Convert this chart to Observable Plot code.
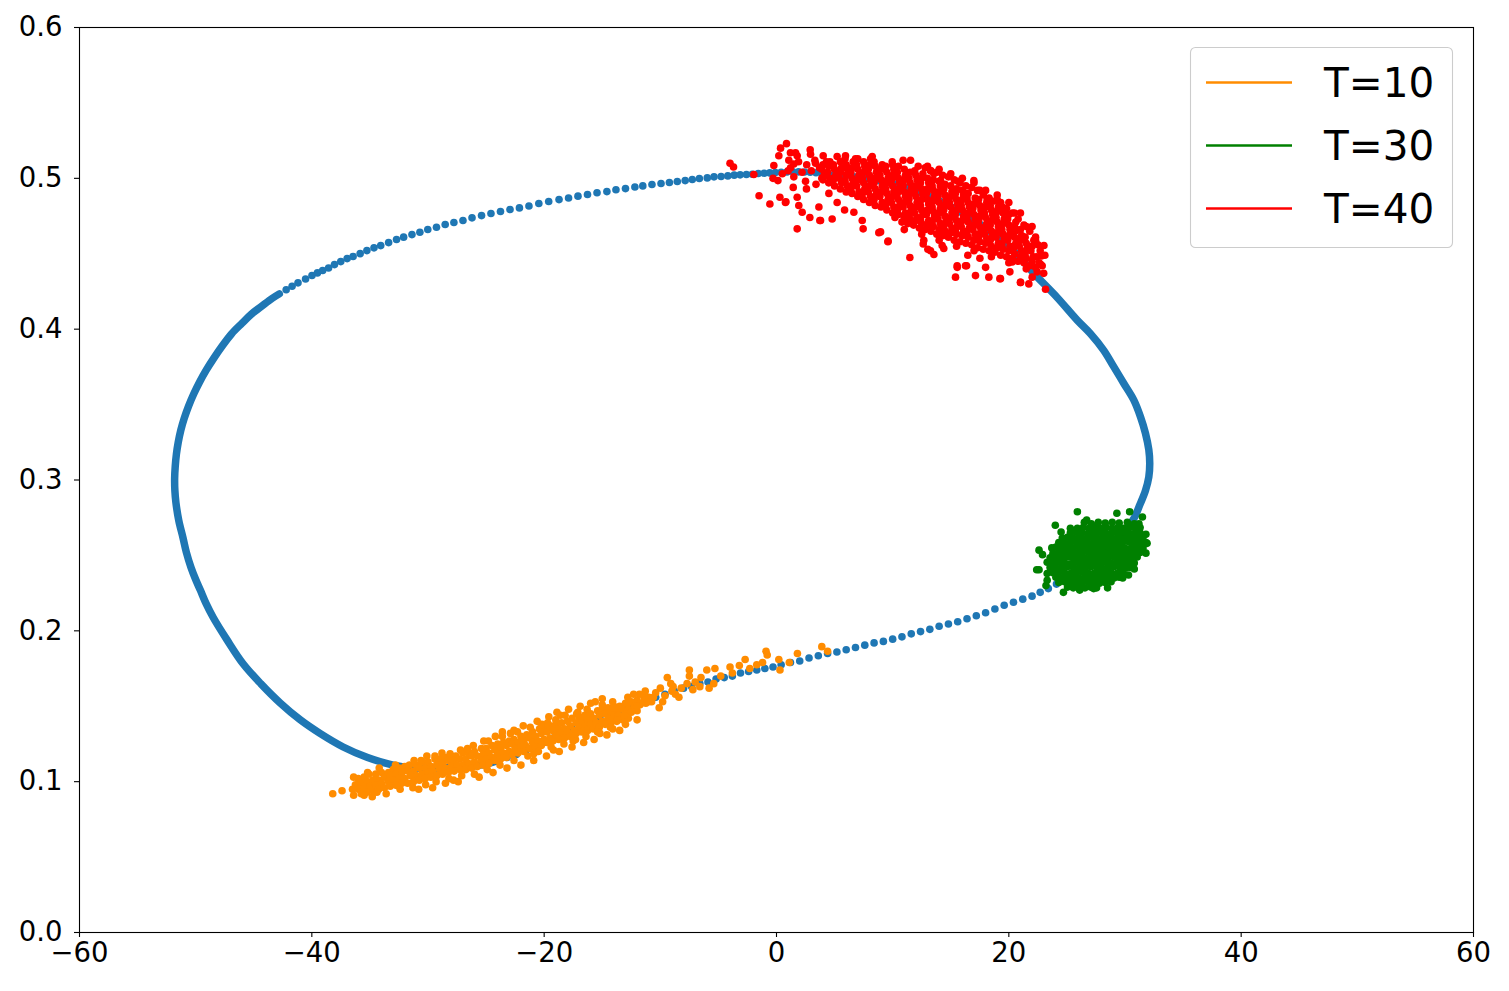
<!DOCTYPE html>
<html><head><meta charset="utf-8">
<script src="https://cdn.jsdelivr.net/npm/d3@7"></script>
<script src="https://cdn.jsdelivr.net/npm/@observablehq/plot@0.6"></script>
<style>body{margin:0;background:#fff;} #chart{width:1509px;height:991px;}</style>
</head><body><div id="chart"></div>
<script>
const xTicks = [-60,-40,-20,0,20,40,60];
const yTicks = [0,0.1,0.2,0.3,0.4,0.5,0.6];
const seriesLabels = ["T=10","T=30","T=40"];
const seriesColors = ["#ff8c00","#008000","#ff0000"];
const loopColor = "#1f77b4";

// dense (slow) parts of the limit cycle, where the dots merge into a band
const loopBandLeft = [[-42.8,.4234],[-43.4,.4205],[-44.35,.415],[-45.2,.410],[-46.0,.404],[-46.9,.397],[-47.7,.389],[-48.42,.381],[-49.08,.373],[-49.66,.365],[-50.17,.357],[-50.61,.349],[-50.98,.341],[-51.28,.333],[-51.5,.325],[-51.66,.317],[-51.76,.309],[-51.81,.301],[-51.79,.293],[-51.7,.285],[-51.45,.273],[-51.1,.262],[-50.8,.252],[-50.4,.242],[-50.0,.234],[-49.6,.227],[-49.1,.218],[-48.5,.209],[-47.3,.194],[-45.9,.178],[-44.4,.165],[-42.7,.152],[-41.0,.141],[-39.3,.132],[-37.3,.123],[-35.2,.116],[-33.0,.111],[-31.0,.109],[-29.0,.109],[-27.0,.110],[-25.5,.111],[-24.0,.114]];
const loopBandRight = [[25.3,.236],[26,.240],[27,.245],[28,.251],[29,.258],[30,.266],[30.8,.275],[31.3,.284],[31.76,.293],[32.05,.302],[32.13,.311],[32.05,.320],[31.76,.331],[31.33,.342],[30.76,.353],[29.9,.364],[29.04,.375],[28.17,.386],[27.03,.397],[25.88,.406],[24.16,.421],[22.15,.437],[21.0,.447],[20.0,.455],[18,.467],[16,.477],[14,.485],[12,.492],[10,.4965],[8,.4995],[6.5,.501]];
// separate dots of the fast parts of the cycle
const loopDots = [[-42.21,.4261],[-41.70,.4285],[-41.19,.4307],[-40.54,.4333],[-39.99,.4356],[-39.52,.4373],[-39.07,.4389],[-38.56,.4406],[-38.05,.4428],[-37.51,.4448],[-36.96,.4468],[-36.45,.4482],[-35.84,.4501],[-35.26,.4521],[-34.65,.4539],[-34.07,.4554],[-33.39,.4574],[-32.71,.4594],[-32.10,.4610],[-31.38,.4627],[-30.70,.4643],[-30.02,.4661],[-29.27,.4676],[-28.52,.4694],[-27.77,.4707],[-26.99,.4720],[-26.21,.4738],[-25.39,.4753],[-24.58,.4767],[-23.76,.4780],[-22.94,.4793],[-22.13,.4804],[-21.31,.4817],[-20.46,.4833],[-19.61,.4846],[-18.72,.4859],[-17.90,.4870],[-17.09,.4882],[-16.27,.4893],[-15.45,.4904],[-14.60,.4912],[-13.82,.4924],[-13.00,.4932],[-12.19,.4943],[-11.51,.4950],[-10.72,.4959],[-9.94,.4966],[-9.22,.4972],[-8.54,.4979],[-7.86,.4985],[-7.25,.4992],[-6.64,.4999],[-5.96,.5003],[-5.38,.5010],[-4.77,.5012],[-4.19,.5016],[-3.64,.5021],[-3.13,.5023],[-2.59,.5025],[-2.08,.5027],[-1.57,.5032],[-1.06,.5034],[-0.58,.5036],[-0.10,.5038],[0.4,.504],[0.9,.5042],[1.4,.5043],[1.9,.5043],[2.4,.5042],[2.9,.504],[3.4,.5037],[3.9,.5033],[4.4,.5029],[4.9,.5024],[5.4,.5019],[5.9,.5013],
[-23.2,.116],[-22.4,.118],[-21.6,.120],[-20.8,.123],[-20.0,.126],[-19.2,.129],[-18.4,.132],[-17.6,.135],[-16.8,.138],[-16.0,.140],[-15.2,.143],[-14.4,.145],[-13.6,.147],[-12.8,.150],[-12.0,.152],[-11.2,.154],[-10.4,.156],[-9.6,.158],[-8.8,.160],[-8.0,.162],[-7.3,.163],[-6.6,.165],[-5.9,.166],[-5.2,.168],[-4.5,.169],[-3.8,.170],[-3.1,.172],[-2.4,.173],[-1.7,.174],[-1.0,.175],[-0.3,.176],[0.4,.1775],[1.2,.179],[2.0,.180],[2.8,.182],[3.6,.1835],[4.4,.185],[5.2,.186],[6.0,.1875],[6.8,.189],[7.6,.1905],[8.4,.192],[9.2,.193],[10.0,.1945],[10.8,.196],[11.6,.198],[12.4,.1995],[13.2,.201],[14.0,.203],[14.8,.2045],[15.6,.206],[16.4,.208],[17.2,.210],[18.0,.212],[18.8,.2145],[19.6,.217],[20.4,.219],[21.2,.221],[22.0,.223],[22.7,.2255],[23.4,.228],[24.1,.231],[24.8,.234]];

// T=10 cloud
const t10Points = [[-36,.102],[-35.5,.103],[-35.1,.105],[-34.5,.105],[-34,.106],[-33.4,.106],[-33,.108],[-32.5,.109],[-32,.110],[-31.6,.111],[-31,.111],[-30.5,.113],[-30,.113],[-29.4,.115],[-29,.115],[-28.5,.116],[-28,.117],[-27.6,.117],[-27,.119],[-26.5,.119],[-26,.120],[-25.4,.122],[-25,.122],[-24.5,.124],[-24,.125],[-23.5,.126],[-23,.127],[-22.6,.128],[-22,.130],[-21.5,.131],[-21,.133],[-20.4,.135],[-20,.135],[-19.5,.137],[-19,.138],[-18.5,.139],[-18,.140],[-17.6,.142],[-17,.143],[-16.5,.144],[-16,.145],[-15.4,.147],[-15,.148],[-14.5,.149],[-14,.150],[-13.5,.150],[-13,.152],[-12.5,.153],[-12,.154],[-11.4,.156],[-11,.156],
[-36.25,.098],[-35.75,.099],[-35.25,.100],[-34.75,.101],[-34.25,.101],[-33.75,.103],[-33.25,.104],[-32.75,.105],[-32.25,.106],[-31.75,.107],[-31.25,.107],[-30.75,.109],[-30.25,.109],[-29.75,.110],[-29.25,.111],[-28.75,.112],[-28.25,.114],[-27.75,.114],[-27.25,.115],[-26.75,.115],[-26.25,.117],[-25.75,.117],[-25.25,.118],[-24.75,.119],[-24.25,.121],[-23.75,.122],[-23.25,.124],[-22.75,.125],[-22.25,.126],[-21.75,.127],[-21.25,.129],[-20.75,.130],[-20.25,.132],[-19.75,.133],[-19.25,.134],[-18.75,.135],[-18.25,.135],[-17.75,.137],[-17.25,.139],[-16.75,.140],[-16.25,.141],[-15.75,.142],[-15.25,.144],[-14.75,.145],[-14.25,.146],[-13.75,.147],[-13.25,.148],[-12.75,.148],[-12.25,.150],[-11.75,.151],[-11.25,.152],[-10.75,.153],
[-36.5,.095],[-36,.095],[-35.5,.096],[-35,.097],[-34.5,.098],[-34,.099],[-33.4,.100],[-33,.101],[-32.5,.102],[-32,.102],[-31.5,.104],[-31,.104],[-30.5,.105],[-30,.106],[-29.6,.107],[-29,.108],[-28.5,.109],[-28,.110],[-27.5,.111],[-27,.111],[-26.5,.112],[-26,.113],[-25.4,.114],[-25,.115],[-24.5,.116],[-24,.118],[-23.5,.119],[-23,.120],[-22.5,.122],[-22,.123],[-21.6,.124],[-21,.126],[-20.5,.127],[-20,.128],[-19.5,.129],[-19,.131],[-18.5,.132],[-18,.133],[-17.4,.134],[-17,.136],[-16.5,.137],[-16,.138],[-15.5,.139],[-15,.140],[-14.5,.142],[-14,.143],[-13.6,.144],[-13,.145],[-12.5,.146],[-12,.147],
[-35.75,.092],[-35.25,.093],[-34.75,.094],[-34.25,.095],[-33.75,.096],[-33.25,.097],[-32.75,.098],[-32.25,.099],[-31.75,.099],[-31.25,.100],[-30.75,.101],[-30.25,.102],[-29.75,.103],[-29.25,.104],[-28.75,.105],[-28.25,.106],[-27.75,.107],[-27.25,.108],[-26.75,.108],[-26.25,.109],[-25.75,.110],[-25.25,.111],[-24.75,.112],[-24.25,.114],[-23.75,.115],[-23.25,.116],[-22.75,.118],[-22.25,.119],[-21.75,.120],[-21.25,.122],[-20.75,.123],[-20.25,.124],[-19.75,.126],[-19.25,.127],[-18.75,.128],[-18.25,.129],[-17.75,.130],[-17.25,.132],[-16.75,.133],[-16.25,.134],[-15.75,.135],[-15.25,.136],[-14.75,.138],[-14.25,.139],[-13.75,.140],[-13.25,.141],[-12.75,.142],
[-34.2,.109],[-32.8,.111],[-31.2,.114],[-30.1,.117],[-28.8,.119],[-27.2,.121],[-26.1,.124],[-24.8,.127],[-23.6,.130],[-22.3,.133],[-21.2,.136],[-20.2,.138],[-19.0,.141],[-18.2,.144],[-17.1,.146],[-16.3,.148],[-15.0,.151],[-14.1,.153],[-12.8,.156],[-11.8,.158],
[-34.8,.090],[-33.6,.092],[-32.4,.095],[-31.3,.096],[-30.2,.098],[-29.3,.100],[-28.2,.102],[-27.1,.104],[-26.0,.105],[-24.9,.108],[-23.8,.111],[-22.6,.114],[-21.4,.117],[-20.5,.120],[-19.4,.123],[-18.3,.125],[-17.3,.128],[-16.4,.130],[-15.2,.132],[-14.1,.135],[-13.0,.138],[-12.0,.141],
[-24.2,.130],[-22.9,.132],[-21.8,.137],[-20.6,.140],[-19.6,.143],[-18.9,.146],[-17.9,.148],[-16.9,.150],[-16.0,.152],[-15.0,.155],
[-25.6,.103],[-24.4,.106],[-23.2,.109],[-22.0,.111],[-20.9,.114],[-19.8,.117],[-18.7,.120],[-17.6,.123],[-16.6,.126],[-15.7,.128],[-14.6,.131],[-13.5,.134],[-30.8,.095],[-29.6,.096],[-28.5,.099],[-27.4,.100],
[-38.2,.092],[-37.4,.094],[-36.4,.103],[-35.2,.106],[-36.4,.091],[-35.5,.091],[-34.4,.093],[-32.7,.0975],[-30.6,.114],[-29.4,.117],[-28.1,.1185],[-27.8,.101],[-26.6,.122],[-25.2,.127],[-23.6,.133],[-22.6,.134],[-20.9,.1185],[-19.7,.139],[-18.6,.144],[-17.2,.145],[-15.6,.153],[-15.4,.133],[-14.3,.136],[-14.0,.149],[-19.2,.121],[-17.5,.127],
[-13.7,.141],[-13.1,.144],[-12.3,.158],[-11.7,.152],[-11.3,.160],[-10.6,.156],[-10.1,.149],[-10.0,.162],[-9.4,.169],[-9.1,.165],[-8.7,.158],[-8.4,.156],[-7.7,.165],[-7.5,.174],[-7.5,.170],[-6.5,.169],[-6.0,.174],[-5.8,.162],[-5.3,.175],[-5.4,.165],[-4.0,.176],[-3.2,.177],[-2.7,.181],[-1.7,.1775],[-0.9,.1865],[-0.8,.184],[0.2,.181],[0.3,.174],[1.1,.179],[1.8,.185],[3.9,.1895],[4.4,.1865],[-9.8,.153],[-9.0,.160],[-8.2,.162],[-7.0,.166],[-6.6,.163],[-4.8,.170],[-3.8,.172],[-2.3,.175],[-1.2,.179],[-10.4,.159],[-11.0,.153],[-12.0,.150],[-12.8,.152],[-9.6,.157],[-8.9,.163],[-7.2,.161]];

// T=30 cloud
const t30Points = [[26.5,.272],[27.1,.271],[27.7,.272],[28.3,.2715],[28.9,.272],[29.5,.2715],[30.2,.272],[30.8,.271],
[25.9,.268],[26.4,.2685],[26.9,.268],[27.4,.2685],[27.9,.268],[28.4,.2685],[28.9,.268],[29.4,.2685],[29.9,.268],[30.4,.2685],[30.9,.268],[31.3,.2685],
[25.3,.265],[25.8,.2655],[26.3,.265],[26.8,.2645],[27.3,.265],[27.8,.2655],[28.3,.265],[28.8,.2645],[29.3,.265],[29.8,.2655],[30.3,.265],[30.8,.2645],[31.3,.265],
[24.6,.2615],[25.05,.262],[25.55,.2615],[26.05,.262],[26.55,.261],[27.05,.262],[27.55,.2615],[28.05,.262],[28.55,.2615],[29.05,.261],[29.55,.262],[30.05,.2615],[30.55,.262],[31.05,.2615],[31.55,.262],
[24.3,.2585],[24.8,.258],[25.3,.2585],[25.8,.259],[26.3,.2585],[26.8,.258],[27.3,.2585],[27.8,.2585],[28.3,.259],[28.8,.2585],[29.3,.258],[29.8,.2585],[30.3,.259],[30.8,.2585],[31.3,.258],[31.8,.2585],
[23.7,.255],[24.05,.2555],[24.55,.255],[25.05,.2545],[25.55,.255],[26.05,.2555],[26.55,.255],[27.05,.255],[27.55,.2545],[28.05,.255],[28.55,.2555],[29.05,.255],[29.55,.255],[30.05,.2545],[30.55,.255],[31.05,.2555],[31.55,.255],
[23.8,.2515],[24.3,.252],[24.8,.2515],[25.3,.252],[25.8,.2515],[26.3,.252],[26.8,.2525],[27.3,.2515],[27.8,.252],[28.3,.2515],[28.8,.252],[29.3,.2525],[29.8,.2515],[30.3,.252],[30.8,.2515],[31.3,.252],
[23.55,.2485],[24.05,.248],[24.55,.2485],[25.05,.249],[25.55,.2485],[26.05,.248],[26.55,.2485],[27.05,.249],[27.55,.2485],[28.05,.248],[28.55,.2485],[29.05,.249],[29.55,.2485],[30.05,.248],[30.55,.2485],[31.05,.249],
[23.3,.2455],[23.8,.245],[24.3,.2455],[24.8,.245],[25.3,.2445],[25.8,.2455],[26.3,.245],[26.8,.2455],[27.3,.245],[27.8,.2445],[28.3,.2455],[28.8,.245],[29.3,.2455],[29.8,.245],[30.3,.2455],[30.8,.245],
[23.55,.242],[24.05,.2415],[24.55,.242],[25.05,.2425],[25.55,.242],[26.05,.2415],[26.55,.242],[27.05,.2425],[27.55,.242],[28.05,.2415],[28.55,.242],[29.05,.2425],[29.55,.242],[30.05,.2415],[30.45,.242],
[23.8,.2385],[24.3,.239],[24.8,.2385],[25.3,.238],[25.8,.2385],[26.3,.239],[26.8,.2385],[27.3,.238],[27.8,.2385],[28.3,.239],[28.8,.2385],[29.3,.238],[29.8,.2385],
[24.05,.2355],[24.55,.235],[25.05,.2355],[25.55,.2355],[26.05,.235],[26.55,.2355],[27.05,.2355],[27.55,.235],[28.05,.2355],[28.55,.2355],[29.05,.235],[29.5,.2355],
[24.3,.232],[24.8,.2325],[25.3,.232],[25.8,.2315],[26.3,.232],[26.8,.2325],[27.3,.232],[27.8,.2315],[28.3,.232],[28.8,.2325],
[25.05,.229],[25.55,.2285],[26.05,.229],[26.55,.2285],[27.05,.229],[27.55,.2285],
[25.9,.279],[24.0,.270],[29.3,.278],[30.4,.279],[26.7,.2735],[22.6,.2535],[22.9,.2505],[22.4,.2405],[22.6,.2405],[23.3,.2335],[23.2,.230],[24.7,.2255],[26.1,.227],[27.3,.228],[28.75,.2345],[29.8,.235],[31.8,.264],[31.8,.2515],[31.5,.2755],[31.2,.271],[30.3,.237],[28.5,.2285],[30.8,.241],[31.9,.258],[25.3,.268],[24.5,.2655],[23.3,.238]];

// T=40 cloud
const t40Points = [[4.0,.499],[4.1,.502],[3.9,.506],[4.0,.509],
[4.5,.497],[4.6,.500],[4.4,.504],[4.5,.508],[4.6,.511],
[5.0,.495],[4.9,.499],[5.1,.502],[5.0,.506],[4.9,.509],
[5.5,.493],[5.6,.497],[5.4,.500],[5.5,.504],[5.6,.507],[5.5,.511],
[6.0,.491],[6.1,.495],[5.9,.498],[6.0,.502],[6.1,.506],[6.0,.509],[5.9,.513],
[6.5,.490],[6.4,.493],[6.6,.497],[6.5,.500],[6.4,.504],[6.5,.507],[6.6,.511],
[7.0,.488],[7.1,.491],[6.9,.495],[7.0,.499],[7.1,.502],[7.0,.506],[6.9,.509],[7.0,.513],
[7.5,.486],[7.4,.490],[7.6,.493],[7.5,.497],[7.4,.500],[7.5,.504],[7.6,.508],[7.5,.511],
[8.0,.484],[8.1,.488],[7.9,.491],[8.0,.495],[8.1,.499],[8.0,.502],[7.9,.506],[8.0,.509],[8.1,.513],
[8.5,.482],[8.4,.486],[8.6,.490],[8.5,.493],[8.4,.497],[8.5,.500],[8.6,.504],[8.5,.508],[8.4,.511],
[9.0,.481],[9.1,.484],[8.9,.488],[9.0,.491],[9.1,.495],[9.0,.499],[8.9,.502],[9.0,.506],[9.1,.509],
[9.5,.479],[9.4,.482],[9.6,.486],[9.5,.490],[9.4,.493],[9.5,.497],[9.6,.500],[9.5,.504],[9.4,.508],
[10.0,.477],[10.1,.481],[9.9,.484],[10.0,.488],[10.1,.491],[10.0,.495],[9.9,.499],[10.0,.502],[10.1,.506],[10.0,.509],
[10.5,.476],[10.4,.479],[10.6,.482],[10.5,.486],[10.4,.490],[10.5,.493],[10.6,.497],[10.5,.500],[10.4,.504],[10.5,.508],
[11.0,.474],[11.1,.477],[10.9,.481],[11.0,.484],[11.1,.488],[11.0,.491],[10.9,.495],[11.0,.499],[11.1,.502],[11.0,.506],
[11.5,.473],[11.4,.476],[11.6,.479],[11.5,.482],[11.4,.486],[11.5,.490],[11.6,.493],[11.5,.497],[11.4,.500],[11.5,.504],
[12.0,.472],[12.1,.474],[11.9,.477],[12.0,.481],[12.1,.484],[12.0,.488],[11.9,.491],[12.0,.495],[12.1,.499],[12.0,.502],[11.9,.505],
[12.5,.470],[12.4,.473],[12.6,.476],[12.5,.479],[12.4,.482],[12.5,.486],[12.6,.490],[12.5,.493],[12.4,.497],[12.5,.500],[12.6,.503],
[13.0,.469],[13.1,.472],[12.9,.476],[13.0,.479],[13.1,.483],[13.0,.486],[12.9,.490],[13.0,.493],[13.1,.497],[13.0,.500],
[13.5,.468],[13.4,.471],[13.6,.475],[13.5,.478],[13.4,.481],[13.5,.485],[13.6,.488],[13.5,.492],[13.4,.495],[13.5,.499],
[14.0,.466],[14.1,.470],[13.9,.473],[14.0,.477],[14.1,.480],[14.0,.484],[13.9,.488],[14.0,.491],[14.1,.495],[14.0,.498],
[14.5,.465],[14.4,.468],[14.6,.472],[14.5,.475],[14.4,.479],[14.5,.482],[14.6,.486],[14.5,.489],[14.4,.493],[14.5,.496],
[15.0,.464],[15.1,.467],[14.9,.470],[15.0,.474],[15.1,.477],[15.0,.481],[14.9,.484],[15.0,.488],[15.1,.491],[15.0,.495],
[15.5,.463],[15.4,.466],[15.6,.469],[15.5,.472],[15.4,.476],[15.5,.479],[15.6,.483],[15.5,.486],[15.4,.490],[15.5,.493],
[16.0,.462],[16.1,.465],[15.9,.468],[16.0,.472],[16.1,.475],[16.0,.479],[15.9,.482],[16.0,.486],[16.1,.489],[16.0,.492],
[16.5,.461],[16.4,.464],[16.6,.467],[16.5,.471],[16.4,.474],[16.5,.477],[16.6,.481],[16.5,.484],[16.4,.487],[16.5,.490],
[17.0,.459],[17.1,.463],[16.9,.466],[17.0,.469],[17.1,.473],[17.0,.476],[16.9,.480],[17.0,.483],[17.1,.487],
[17.5,.458],[17.4,.461],[17.6,.465],[17.5,.468],[17.4,.472],[17.5,.475],[17.6,.479],[17.5,.482],[17.4,.486],
[18.0,.457],[18.1,.460],[17.9,.463],[18.0,.467],[18.1,.470],[18.0,.474],[17.9,.477],[18.0,.481],[18.1,.484],
[18.5,.455],[18.4,.459],[18.6,.462],[18.5,.465],[18.4,.469],[18.5,.472],[18.6,.476],[18.5,.479],[18.4,.482],
[19.0,.454],[19.1,.457],[18.9,.461],[19.0,.464],[19.1,.468],[19.0,.471],[18.9,.474],[19.0,.478],[19.1,.481],
[19.5,.453],[19.4,.456],[19.6,.460],[19.5,.463],[19.4,.466],[19.5,.470],[19.6,.473],[19.5,.477],
[20.0,.452],[20.1,.455],[19.9,.459],[20.0,.462],[20.1,.466],[20.0,.469],[19.9,.473],[20.0,.476],
[20.5,.450],[20.4,.454],[20.6,.457],[20.5,.461],[20.4,.464],[20.5,.468],[20.6,.471],
[21.0,.448],[21.1,.452],[20.9,.455],[21.0,.459],[21.1,.462],[21.0,.466],
[21.5,.447],[21.4,.450],[21.6,.454],[21.5,.457],[21.4,.461],
[22.0,.445],[22.1,.448],[21.9,.452],[22.0,.455],
[12.2,.508],[12.8,.507],[13.3,.505],[13.8,.504],[14.3,.502],[14.8,.501],[15.3,.499],[15.8,.497],[16.3,.495],[16.8,.494],[17.3,.492],[17.8,.489],[18.3,.487],[18.8,.485],[19.3,.484],[19.8,.480],[20.3,.477],[20.8,.473],[21.3,.469],[21.8,.465],[22.3,.461],
[13.0,.508],[14.0,.506],[15.0,.503],[16.0,.500],[17.0,.497],[18.0,.492],[19.0,.489],[20.0,.484],[21.0,.477],[22.0,.468],
[10.2,.474],[10.8,.471],[11.3,.470],[11.8,.469],[12.3,.467],[12.8,.466],[13.3,.465],[13.8,.463],[14.3,.462],[14.8,.461],[15.3,.459],[15.8,.458],[16.3,.457],[16.8,.456],[17.3,.454],[17.8,.453],[18.3,.452],[18.8,.451],[19.3,.449],[19.8,.448],[20.3,.447],[20.8,.445],[21.3,.444],[21.8,.442],[22.3,.441],[22.6,.444],[22.4,.448],[22.7,.452],
[11,.466],[12.5,.463],[14,.459],[15.5,.455],[17,.452],[18.5,.448],[20,.444],[21.5,.440],[23,.437],
[-4.0,.510],[-3.7,.5075],[-1.95,.5025],[-1.5,.4885],[-0.57,.483],[0.35,.520],[0.86,.523],[0.2,.515],[-0.23,.5085],[0.12,.4985],[0.29,.4875],[0.81,.4845],[1.06,.512],[1.64,.517],[1.78,.515],[1.49,.5095],[1.21,.507],[1.49,.501],[1.44,.494],[1.78,.4875],[1.92,.482],[2.21,.4775],[1.78,.4665],[2.93,.516],[2.87,.474],[2.58,.493],[3.36,.510],[3.65,.481],[3.79,.472],[4.02,.515],[4.79,.473],[4.22,.502],[4.51,.490],[5.22,.484],[5.86,.479],[6.66,.4775],[7.38,.472],[7.46,.4665],[8.96,.4645],[9.59,.458],[11.48,.4475],[12.63,.4565],[13.03,.453],[13.55,.4495],[14.26,.4555],[15.41,.4345],[15.56,.441],[16.36,.442],[16.47,.449],[17.13,.4355],[17.51,.447],[18.0,.441],[18.28,.4345],[19.23,.4335],[20.09,.438],[20.29,.4445],[21.01,.431],[21.72,.430],[22.01,.4345],[22.44,.438],[22.73,.443],[23.02,.4555],[22.15,.459],[23.16,.4265],[20.43,.4655],[18.37,.4855],[19.43,.481],[16.99,.4985],[13.55,.503],[11.54,.512],[9.96,.511],[8.24,.5145],[6.8,.513],[5.94,.515],[5.22,.5145],[10.9,.512],[13.26,.505],[14.12,.4985],[15.61,.498],[18.14,.486],[0.77,.484],[3.73,.472],[9.61,.4585],[8.81,.464],[12.68,.459],[13.26,.452],[14.4,.4535],[15.55,.442],[16.27,.442],[19.28,.4335],[21.0,.431],[22.3,.459],[22.87,.442],[21.29,.4455],[20.72,.4655],
[2.6,.509],[3.0,.505],[3.3,.512],[3.7,.507],[3.9,.500],[2.2,.504],[1.9,.511],[4.3,.511],[2.5,.498],[3.4,.496],[1.0,.505],[0.5,.503],[-0.3,.500],[2.9,.519],[1.2,.517],
[17.5,.492],[19.0,.486],[20.5,.477],[21.5,.468],[22.5,.456],[23.1,.449],[22.8,.4485]];

const R = 3.8;
const px = d => d[0], py = d => d[1];

const chart = Plot.plot({
  width: 1509, height: 991,
  marginLeft: 79, marginRight: 36, marginTop: 27, marginBottom: 59,
  style: {fontFamily: "'DejaVu Sans', sans-serif", fontSize: "27.5px", color: "black", background: "white"},
  x: {domain: [-60, 60], label: null},
  y: {domain: [0, 0.6], label: null},
  marks: [
    Plot.line(loopBandLeft, {x: px, y: py, stroke: loopColor, strokeWidth: 7.5, curve: "catmull-rom", strokeLinecap: "round", strokeLinejoin: "round"}),
    Plot.line(loopBandRight, {x: px, y: py, stroke: loopColor, strokeWidth: 7.5, curve: "catmull-rom", strokeLinecap: "round", strokeLinejoin: "round"}),
    Plot.dot(loopDots, {x: px, y: py, r: R, fill: loopColor}),
    Plot.dot(t10Points, {x: px, y: py, r: R, fill: seriesColors[0]}),
    Plot.dot(t30Points, {x: px, y: py, r: R, fill: seriesColors[1]}),
    Plot.dot(t40Points, {x: px, y: py, r: R, fill: seriesColors[2]}),
    Plot.axisX({ticks: xTicks, tickSize: 5, tickPadding: 5, tickFormat: d3.format("d"), strokeWidth: 1.1, label: null}),
    Plot.axisY({ticks: yTicks, tickSize: 5, tickPadding: 12, tickFormat: d3.format(".1f"), strokeWidth: 1.1, label: null}),
    Plot.frame({stroke: "black", strokeWidth: 1.1})
  ]
});
document.getElementById("chart").appendChild(chart);

// legend (upper right, inside the axes)
const svg = d3.select(chart);
const lg = svg.append("g").attr("class", "legend");
lg.append("rect").attr("x", 1190.5).attr("y", 47.5).attr("width", 262).attr("height", 200)
  .attr("rx", 5).attr("fill", "white").attr("fill-opacity", 0.8).attr("stroke", "#cccccc").attr("stroke-width", 1.1);
seriesLabels.forEach((lab, i) => {
  const yy = 82.5 + i * 63;
  lg.append("line").attr("x1", 1206).attr("x2", 1292).attr("y1", yy).attr("y2", yy)
    .attr("stroke", seriesColors[i]).attr("stroke-width", 2.6);
  lg.append("text").attr("x", 1324).attr("y", yy + 14.5).attr("fill", "black")
    .attr("text-anchor", "start")
    .style("font-family", "'DejaVu Sans', sans-serif").style("font-size", "40.5px").text(lab);
});
</script>
</body></html>
